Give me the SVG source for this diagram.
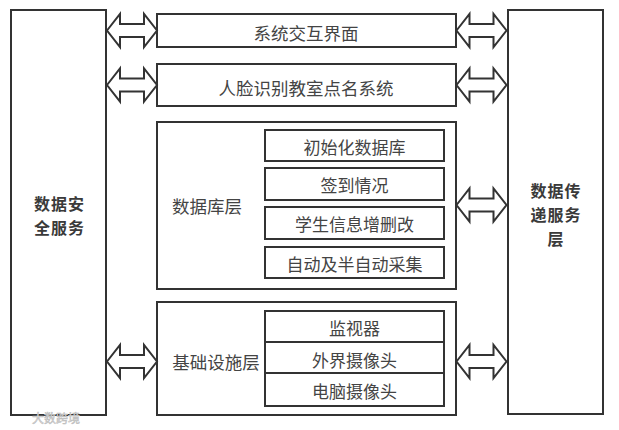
<svg xmlns="http://www.w3.org/2000/svg" width="619" height="430" viewBox="0 0 619 430">
<style>
.box{fill:#fff;stroke:#333;stroke-width:2}
.arr{fill:#fff;stroke:#333;stroke-width:2;stroke-linejoin:miter}
.t{font-family:"Noto Sans CJK SC","Microsoft YaHei",sans-serif;font-size:17px;fill:#444;text-anchor:middle;dominant-baseline:central}
.tl{font-family:"Noto Sans CJK SC","Microsoft YaHei",sans-serif;font-size:17.5px;fill:#444;text-anchor:middle;dominant-baseline:central}
.tb{font-family:"Noto Sans CJK SC","Microsoft YaHei",sans-serif;font-size:16px;font-weight:bold;fill:#3a3a3a;text-anchor:middle;dominant-baseline:central;letter-spacing:1px}
.wm{font-family:"Noto Sans CJK SC",sans-serif;font-size:12px;fill:#e0e0e0;stroke:#bbb;stroke-width:0.5}
</style>
<defs>
<path id="dbl" d="M0,0 L13,-16.5 L13,-6.5 L37,-6.5 L37,-16.5 L50,0 L37,16.5 L37,6.5 L13,6.5 L13,16.5 Z"/>
</defs>
<rect width="619" height="430" fill="#fff"/>
<g id="security">
<rect class="box" x="11" y="10" width="95" height="405"/>
<text class="tb" x="59.5" y="203">数据安</text>
<text class="tb" x="59.5" y="227">全服务</text>
</g>
<g id="transfer">
<rect class="box" x="508" y="10" width="95" height="404"/>
<text class="tb" x="556" y="190">数据传</text>
<text class="tb" x="556" y="214">递服务</text>
<text class="tb" x="556" y="238">层</text>
</g>
<g id="ui">
<rect class="box" x="157" y="14" width="299" height="33"/>
<text class="tl" x="306" y="32">系统交互界面</text>
</g>
<g id="facesys">
<rect class="box" x="157" y="64" width="299" height="42"/>
<text class="tl" x="306" y="87">人脸识别教室点名系统</text>
</g>
<g id="dblayer">
<rect class="box" x="157" y="122" width="299" height="167"/>
<text class="tl" x="207" y="205">数据库层</text>
<g id="db1"><rect class="box" x="265" y="130" width="179" height="31"/><text class="t" x="354.5" y="146">初始化数据库</text></g>
<g id="db2"><rect class="box" x="265" y="168" width="179" height="32"/><text class="t" x="354.5" y="184">签到情况</text></g>
<g id="db3"><rect class="box" x="265" y="207" width="179" height="32"/><text class="t" x="354.5" y="223">学生信息增删改</text></g>
<g id="db4"><rect class="box" x="265" y="247" width="179" height="31"/><text class="t" x="354.5" y="263">自动及半自动采集</text></g>
</g>
<g id="infra">
<rect class="box" x="157" y="302" width="299" height="113"/>
<text class="tl" x="216" y="361">基础设施层</text>
<g id="in1"><rect class="box" x="265" y="311" width="179" height="31"/><text class="t" x="354.5" y="327">监视器</text></g>
<g id="in2"><rect class="box" x="265" y="342" width="179" height="31"/><text class="t" x="354.5" y="359">外界摄像头</text></g>
<g id="in3"><rect class="box" x="265" y="373" width="179" height="33"/><text class="t" x="354.5" y="390">电脑摄像头</text></g>
</g>
<g id="connectors">
<use href="#dbl" class="arr" transform="translate(107,30.5)"/>
<use href="#dbl" class="arr" transform="translate(107,85)"/>
<use href="#dbl" class="arr" transform="translate(107,361.5)"/>
<use href="#dbl" class="arr" transform="translate(456.5,30.5)"/>
<use href="#dbl" class="arr" transform="translate(456.5,85)"/>
<use href="#dbl" class="arr" transform="translate(456.5,205)"/>
<use href="#dbl" class="arr" transform="translate(456.5,361.5)"/>
</g>
<text class="wm" x="32" y="423">大数跨境</text>
</svg>
